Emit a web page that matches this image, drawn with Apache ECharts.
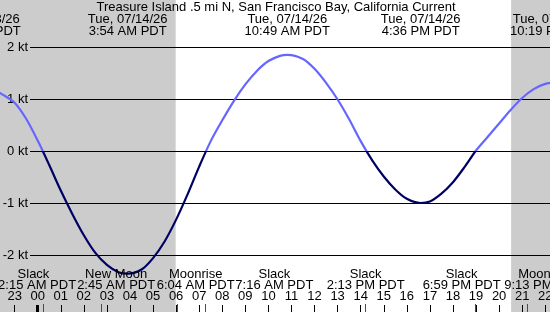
<!DOCTYPE html>
<html>
<head>
<meta charset="utf-8">
<script src="https://cdn.jsdelivr.net/npm/echarts@6/dist/echarts.min.js"></script>
<style>
html,body{margin:0;padding:0;background:#fff;}
#main{width:550px;height:312px;}
#err{position:absolute;left:0;top:0;font:9px monospace;color:#c00;white-space:pre;}
</style>
</head>
<body>
<div id="main"></div>
<div id="err"></div>
<script>
// current speed (kt), hours from midnight Tue 07/14/26, + = ebb, - = flood
var hours  = [-2, -1.5, -1, -0.5, 0, 0.5, 1, 1.5, 2, 2.5, 3, 3.5, 3.9, 4.5, 5, 5.5, 6, 6.5, 7, 7.5, 8, 8.5, 9, 9.5, 10, 10.5, 10.82,
              11.5, 12, 12.5, 13, 13.5, 14, 14.5, 15, 15.5, 16, 16.6, 17, 17.5, 18, 18.5, 19, 19.5, 20, 20.5, 21, 21.5, 22, 22.5];
var speeds = [1.20, 1.08, 0.93, 0.62, 0.20, -0.27, -0.76, -1.21, -1.62, -1.96, -2.19, -2.33, -2.36, -2.28, -2.06, -1.74, -1.32, -0.83, -0.30, 0.19, 0.59, 0.96, 1.28, 1.54, 1.73, 1.83, 1.85,
              1.77, 1.58, 1.31, 0.99, 0.61, 0.19, -0.18, -0.49, -0.74, -0.92, -1.00, -0.97, -0.82, -0.60, -0.31, 0.01, 0.27, 0.53, 0.79, 1.02, 1.19, 1.29, 1.33];

// max ebb / max flood labels on top
var peakHours = [-2.58, 3.9, 10.817, 16.6, 22.317];
var peakDates = ['Mon, 07/13/26', 'Tue, 07/14/26', 'Tue, 07/14/26', 'Tue, 07/14/26', 'Tue, 07/14/26'];
var peakTimes = ['10:20 PM PDT', '3:54 AM PDT', '10:49 AM PDT', '4:36 PM PDT', '10:19 PM PDT'];

// events along the bottom
var eventHours = [0.25, 2.75, 6.067, 7.267, 14.217, 18.983, 21.217];
var eventNames = ['Slack', 'New Moon', 'Moonrise', 'Slack', 'Slack', 'Slack', 'Moonset'];
var eventTimes = ['12:15 AM PDT', '2:45 AM PDT', '6:04 AM PDT', '7:16 AM PDT', '2:13 PM PDT', '6:59 PM PDT', '9:13 PM PDT'];

// night
var sunrise = 5.98;
var sunset = 20.52;

var hourTicks = [-1, 0, 1, 2, 3, 4, 5, 6, 7, 8, 9, 10, 11, 12, 13, 14, 15, 16, 17, 18, 19, 20, 21, 22];

var title = 'Treasure Island .5 mi N, San Francisco Bay, California Current';

var X0 = -1.634, X1 = 22.206;
var FAM = '"Liberation Sans", Arial, sans-serif';
var FONT = '13px ' + FAM;
var chart = echarts.init(document.getElementById('main'));

function tickAxis(values, len, color, width, withLabels) {
    return {
        gridIndex: 0, type: 'value', min: X0, max: X1, position: 'bottom', z: 3,
        axisLine: {show: false, onZero: false}, splitLine: {show: false},
        axisTick: {show: true, inside: true, length: len, customValues: values, lineStyle: {color: color, width: width}},
        axisLabel: withLabels ? {
            show: true, inside: true, margin: 9, customValues: values,
            color: '#000', fontFamily: FAM, fontSize: 13,
            formatter: function (v) {
                var h = (Math.round(v) + 24) % 24;
                return (h < 10 ? '0' : '') + h;
            }
        } : {show: false}
    };
}

var option = {
    animation: false,
    backgroundColor: '#fff',
    grid: [
        {left: 0, right: 0, top: 0, bottom: 0, containLabel: false, outerBoundsMode: 'none'},
        {left: 30, right: 0, top: 47, bottom: 57, containLabel: false, outerBoundsMode: 'none'}
    ],
    xAxis: [
        tickAxis(hourTicks, 7, '#000', 1, true),
        tickAxis(eventHours, 8, '#ff0000', 1, false),
        tickAxis([0], 7, '#000', 3, false),
        {gridIndex: 1, type: 'value', min: 0, max: 1, show: false}
    ],
    yAxis: [
        {gridIndex: 0, type: 'value', min: -161 / 52, max: 151 / 52, show: false},
        {
            gridIndex: 1, type: 'value', min: -2, max: 2, interval: 1, z: 2,
            axisLine: {show: false}, axisTick: {show: false},
            splitLine: {show: true, lineStyle: {color: '#000', width: 1}},
            axisLabel: {margin: 2, color: '#000', fontFamily: FAM, fontSize: 13, formatter: '{value} kt'}
        }
    ],
    series: [
        {
            // night shading
            type: 'line', xAxisIndex: 0, yAxisIndex: 0, z: 1, silent: true,
            data: [[X0, 0]], showSymbol: false, lineStyle: {opacity: 0},
            markArea: {
                silent: true,
                itemStyle: {color: '#cccccc'},
                data: [
                    [{xAxis: X0}, {xAxis: sunrise}],
                    [{xAxis: sunset}, {xAxis: X1}]
                ]
            }
        },
        {
            type: 'line', xAxisIndex: 0, yAxisIndex: 0, z: 5,
            data: hours.map(function (h, i) { return [h, speeds[i]]; }),
            smooth: 0.3, showSymbol: false, clip: true,
            lineStyle: {width: 2.2, color: '#6666ff'}
        }
    ]
};

try {
    chart.setOption(option);

    // ebb light blue above 0 kt, flood navy below
    var y0 = chart.convertToPixel({yAxisIndex: 0}, 0);
    var H = chart.getHeight();
    var f = y0 / H;
    chart.setOption({series: [{}, {lineStyle: {color: {
        type: 'linear', x: 0, y: 0, x2: 0, y2: H, global: true,
        colorStops: [
            {offset: 0, color: '#6666ff'}, {offset: f, color: '#6666ff'},
            {offset: f, color: '#000064'}, {offset: 1, color: '#000064'}
        ]
    }}}]});

    // text labels placed through the x axis
    var labelShift = [-10, 15, 18, 69, 0, -14, 16];
    var g = [];
    var txt = function (x, y, s) {
        g.push({type: 'text', x: x, y: y, z: 10, silent: true,
            style: {text: s, font: FONT, fill: '#000', align: 'center', verticalAlign: 'middle'}});
    };
    txt(276, 7, title);
    peakHours.forEach(function (h, i) {
        var px = chart.convertToPixel({xAxisIndex: 0}, h);
        txt(px, 19.5, peakDates[i]);
        txt(px, 31, peakTimes[i]);
    });
    eventHours.forEach(function (h, i) {
        var px = chart.convertToPixel({xAxisIndex: 0}, h) + labelShift[i];
        txt(px, 274, eventNames[i]);
        txt(px, 285, eventTimes[i]);
    });
    chart.setOption({graphic: g});
} catch (e) {
    document.getElementById('err').textContent = String(e.stack || e).slice(0, 1500);
}
</script>
</body>
</html>
